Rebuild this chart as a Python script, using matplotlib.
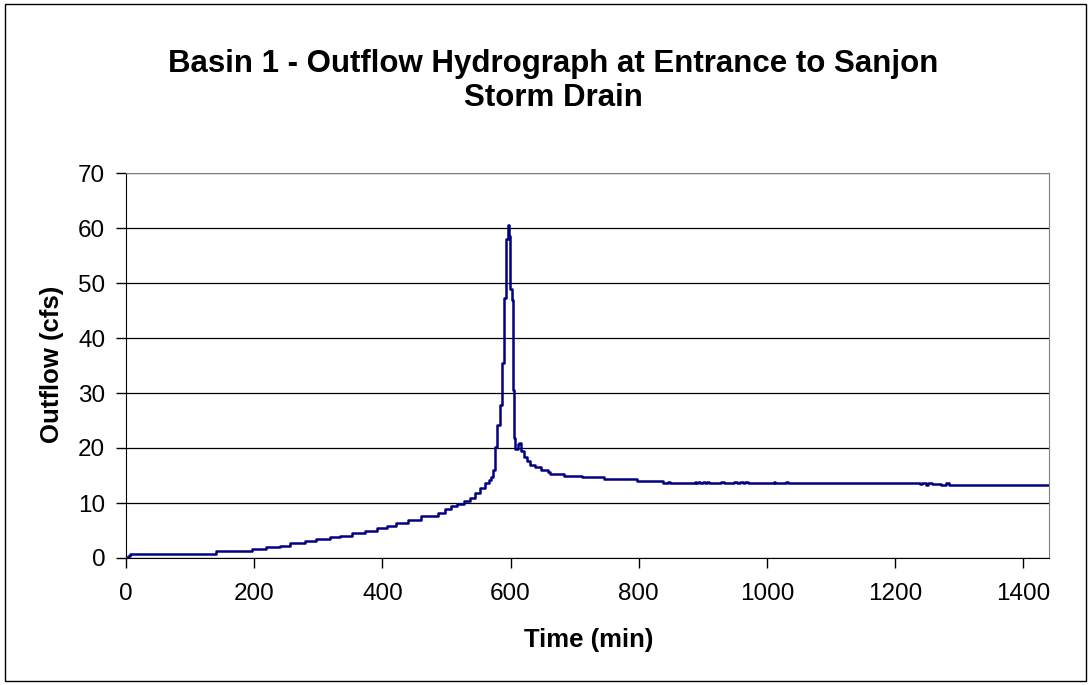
import matplotlib.pyplot as plt
from matplotlib.patches import Rectangle

# Outflow hydrograph breakpoints (value holds until the next time)
time_min = [0, 3, 6, 141, 196, 219, 240, 256, 279, 297, 318, 334, 352, 373,
            391, 407, 422, 440, 461, 487, 498, 507, 516, 527, 537, 545, 552,
            560, 566, 570, 572, 575, 579, 583, 587, 590, 593, 596, 597, 599,
            602, 604, 605, 607, 611, 613, 616, 621, 626, 631, 638, 647, 658,
            662, 683, 712, 745, 798, 838, 845, 849, 887, 889, 893, 896, 900,
            903, 907, 910, 928, 933, 949, 953, 958, 962, 966, 970, 1011, 1013,
            1030, 1033, 1052, 1054, 1238, 1242, 1248, 1252, 1258, 1262, 1272,
            1280, 1284, 1295, 1440]
outflow_cfs = [0.0, 0.4, 0.8, 1.25, 1.6, 2.0, 2.25, 2.7, 3.1, 3.45, 3.75, 4.05,
               4.5, 4.9, 5.5, 5.9, 6.4, 7.0, 7.6, 8.1, 9.0, 9.4, 9.9, 10.4,
               11.0, 11.8, 12.7, 13.6, 14.2, 14.7, 16.0, 20.2, 24.2, 27.8,
               35.4, 47.2, 58.0, 60.5, 58.5, 49.0, 47.0, 30.5, 21.8, 19.8,
               20.7, 20.9, 19.5, 18.3, 17.6, 17.0, 16.5, 16.0, 15.7, 15.3,
               15.0, 14.7, 14.3, 13.95, 13.6, 13.85, 13.6, 13.8, 13.6, 13.85,
               13.7, 13.9, 13.7, 13.85, 13.6, 13.85, 13.6, 13.85, 13.6, 13.8,
               13.6, 13.85, 13.6, 13.75, 13.6, 13.85, 13.6, 13.7, 13.6, 13.45,
               13.6, 13.35, 13.55, 13.4, 13.5, 13.3, 13.6, 13.3, 13.2, 13.2]

x_ticks = [0, 200, 400, 600, 800, 1000, 1200, 1400]
y_ticks = [0, 10, 20, 30, 40, 50, 60, 70]

plt.rcParams['font.family'] = ['Liberation Sans', 'DejaVu Sans']

W, H = 1091, 685
fig = plt.figure(figsize=(W / 100, H / 100), dpi=100)

# chart border
fig.patches.append(Rectangle((5 / W, 1 - 681 / H), 1081 / W, 677 / H,
                             transform=fig.transFigure, fill=False,
                             edgecolor='black', linewidth=1.0))

ax = fig.add_axes([126 / W, 1 - 558 / H, (1049 - 126) / W, (558 - 173) / H])
ax.step(time_min, outflow_cfs, where='post', color='#000080', linewidth=1.8,
        zorder=3)

ax.set_xlim(0, 1440)
ax.set_ylim(0, 70)
ax.set_xticks(x_ticks)
ax.set_yticks(y_ticks)
ax.tick_params(axis='both', direction='out', length=7, width=1,
               labelsize=17.5, colors='black')
ax.tick_params(axis='x', pad=11)
ax.tick_params(axis='y', pad=8)

ax.yaxis.grid(True, color='black', linewidth=0.9, zorder=1)
ax.set_axisbelow(True)
for side in ['top', 'right']:
    ax.spines[side].set_color('#808080')
for side in ['left', 'bottom']:
    ax.spines[side].set_color('black')

fig.text(589 / W, 1 - 640 / H, 'Time (min)', ha='center', va='center',
         fontsize=18.5, fontweight='bold')
fig.text(52 / W, 1 - 364 / H, 'Outflow (cfs)', ha='center', va='center',
         rotation=90, fontsize=18.5, fontweight='bold')
fig.text(553 / W, 1 - 81 / H,
         'Basin 1 - Outflow Hydrograph at Entrance to Sanjon\nStorm Drain',
         ha='center', va='center', fontsize=22.5, fontweight='bold',
         linespacing=1.2)

fig.savefig('out.png', dpi=100)
